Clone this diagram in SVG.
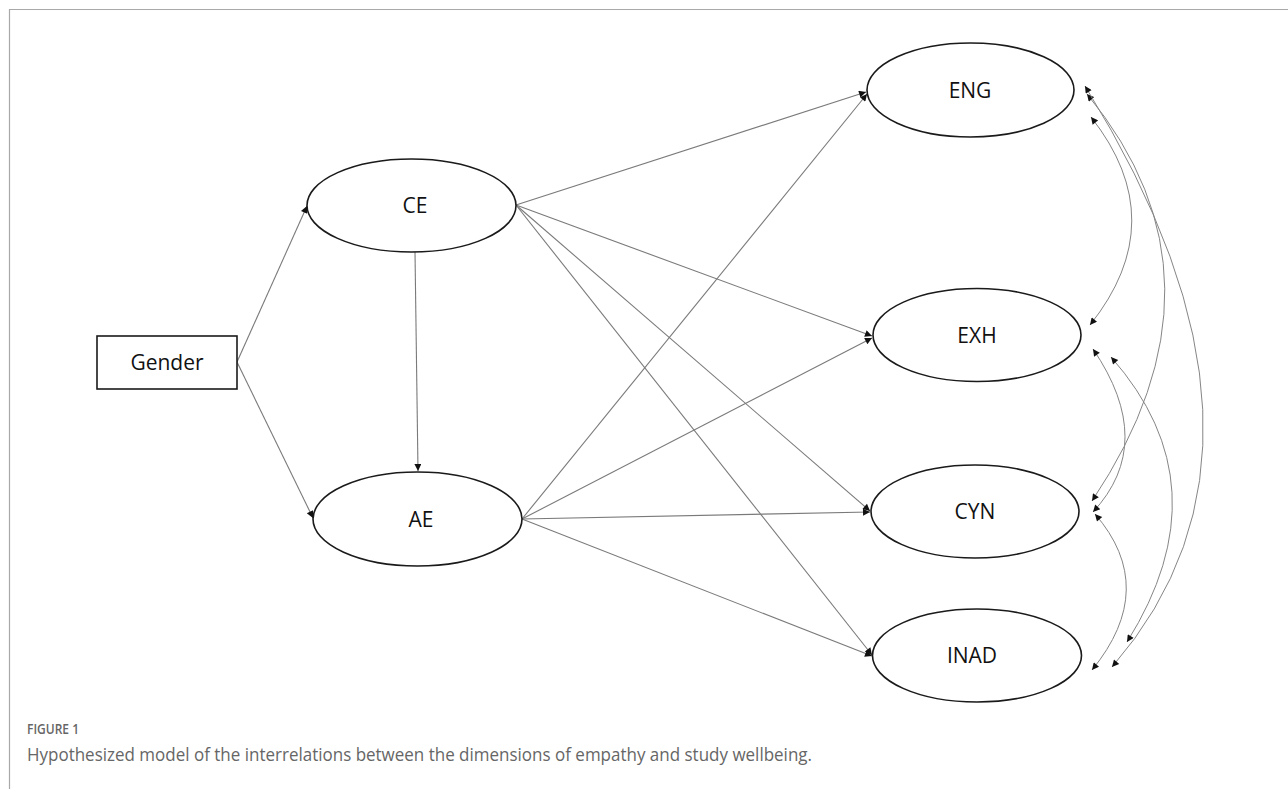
<svg xmlns="http://www.w3.org/2000/svg" width="1288" height="789" viewBox="0 0 1288 789">
<style>
.node{fill:#fff;stroke:#1a1a1a;stroke-width:1.6}
.lbl{font-family:"Open Sans","Liberation Sans",sans-serif;font-size:21px;fill:#111;text-anchor:middle}
.path{fill:none;stroke:#7a7a7a;stroke-width:1.1;marker-end:url(#ah)}
.cov{fill:none;stroke:#858585;stroke-width:1;marker-start:url(#ah);marker-end:url(#ah)}
.cap{font-family:"Open Sans","Liberation Sans",sans-serif;fill:#666}
</style>
<defs>
<marker id="ah" viewBox="0 0 10 10" refX="10" refY="5" markerWidth="9" markerHeight="7" markerUnits="userSpaceOnUse" orient="auto-start-reverse">
<path d="M0,0 L10,5 L0,10 z" fill="#111"/>
</marker>
</defs>
<rect width="1288" height="789" fill="#fff"/>
<path d="M9.5,789 V9.5 H1288" fill="none" stroke="#a8a8a8" stroke-width="1.2"/>
<g id="connectors">
<line class="path" x1="237" y1="362" x2="307" y2="206"/>
<line class="path" x1="237" y1="362" x2="313" y2="518"/>
<line class="path" x1="415" y1="252" x2="418" y2="471"/>
<line class="path" x1="516" y1="205" x2="866" y2="92"/>
<line class="path" x1="516" y1="205" x2="872" y2="336"/>
<line class="path" x1="516" y1="205" x2="870" y2="511"/>
<line class="path" x1="516" y1="205" x2="872" y2="655"/>
<line class="path" x1="522" y1="519" x2="867" y2="94"/>
<line class="path" x1="522" y1="519" x2="872" y2="338"/>
<line class="path" x1="522" y1="519" x2="870" y2="512"/>
<line class="path" x1="522" y1="519" x2="872" y2="656"/>
<path class="cov" d="M1091,117 Q1173,221 1090,325"/>
<path class="cov" d="M1087,94 Q1240,280 1092,501"/>
<path class="cov" d="M1085,86 Q1307,443 1112,667"/>
<path class="cov" d="M1093,349 Q1157,443 1093,512"/>
<path class="cov" d="M1111,357 Q1225,486 1127,642"/>
<path class="cov" d="M1095,514 Q1159,588 1092,670"/>
</g>
<g id="gender">
<rect class="node" x="97" y="336" width="140" height="53"/>
<text class="lbl" x="167" y="370">Gender</text>
</g>
<g id="ce">
<ellipse class="node" cx="411.5" cy="205.5" rx="104.5" ry="46.5"/>
<text class="lbl" x="415" y="213">CE</text>
</g>
<g id="ae">
<ellipse class="node" cx="417.5" cy="519" rx="104.5" ry="47"/>
<text class="lbl" x="421" y="527">AE</text>
</g>
<g id="eng">
<ellipse class="node" cx="970.5" cy="90" rx="103.5" ry="47"/>
<text class="lbl" x="970" y="98">ENG</text>
</g>
<g id="exh">
<ellipse class="node" cx="977" cy="335" rx="104" ry="46.5"/>
<text class="lbl" x="977" y="343">EXH</text>
</g>
<g id="cyn">
<ellipse class="node" cx="975" cy="511.5" rx="104" ry="46.5"/>
<text class="lbl" x="975" y="519">CYN</text>
</g>
<g id="inad">
<ellipse class="node" cx="977" cy="655.5" rx="104.5" ry="46.5"/>
<text class="lbl" x="972" y="663">INAD</text>
</g>
<g id="caption">
<text class="cap" x="27" y="734" font-size="14.5" font-weight="600" textLength="52" lengthAdjust="spacingAndGlyphs">FIGURE 1</text>
<text class="cap" x="27" y="761" font-size="17.5" textLength="785" lengthAdjust="spacingAndGlyphs">Hypothesized model of the interrelations between the dimensions of empathy and study wellbeing.</text>
</g>
</svg>
